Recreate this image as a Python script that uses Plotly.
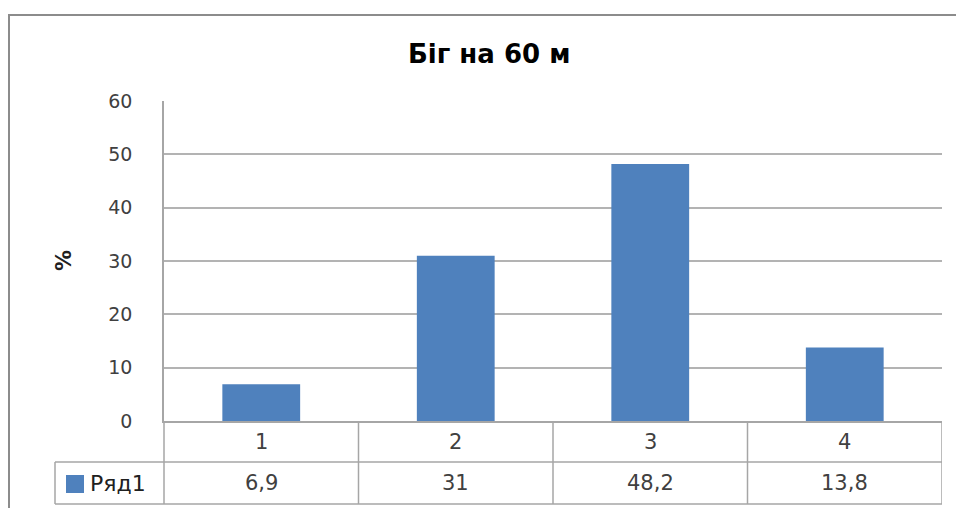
import plotly.graph_objects as go

# Data
categories = ["1", "2", "3", "4"]
values = [6.9, 31, 48.2, 13.8]
series_name = "Ряд1"
y_ticks = [0, 10, 20, 30, 40, 50, 60]
title_text = "Біг на 60 м"
y_title = "%"

# Values in the data table use a decimal comma
value_labels = [f"{v:g}".replace(".", ",") for v in values]

W, H = 956, 508
ML, MR, MT, MB = 164, 14, 101, 87
PW, PH = W - ML - MR, H - MT - MB

BAR_COLOR = "#4F81BD"
GRID = "#b3b3b3"
TABLE_LINE = "#a6a6a6"
TEXT = "#404040"
FONT = "DejaVu Sans"


def px(x):
    return (x - ML) / PW


def py(y):
    return (H - MB - y) / PH


fig = go.Figure(
    go.Bar(
        x=list(range(len(categories))),
        y=values,
        width=0.4,
        marker=dict(color=BAR_COLOR, line=dict(width=0)),
        name=series_name,
    )
)

shapes = []
# Chart frame
shapes.append(dict(type="rect", xref="paper", yref="paper",
                   x0=px(9), x1=px(975), y0=py(530), y1=py(15),
                   line=dict(color="#8c8c8c", width=2), layer="below"))
# Data table grid
row1_top, row2_top, row2_bot = 421, 462, 504
tbl_left, tbl_right = 55, 942
shapes.append(dict(type="line", xref="paper", yref="paper",
                   x0=px(ML), x1=px(ML), y0=py(row1_top), y1=py(row2_bot),
                   line=dict(color=TABLE_LINE, width=1.5)))
for yy, x0 in [(row2_top, tbl_left), (row2_bot, tbl_left)]:
    shapes.append(dict(type="line", xref="paper", yref="paper",
                       x0=px(x0), x1=px(tbl_right), y0=py(yy), y1=py(yy),
                       line=dict(color=TABLE_LINE, width=1.5)))
shapes.append(dict(type="line", xref="paper", yref="paper",
                   x0=px(tbl_left), x1=px(tbl_left), y0=py(row2_top), y1=py(row2_bot),
                   line=dict(color=TABLE_LINE, width=1.5)))
for i in range(len(categories)):
    b = i + 0.5
    shapes.append(dict(type="line", xref="x", yref="paper",
                       x0=b, x1=b, y0=py(row1_top), y1=py(row2_bot),
                       line=dict(color=TABLE_LINE, width=1.5)))
# Legend key in the table
shapes.append(dict(type="rect", xref="paper", yref="paper",
                   x0=px(66), x1=px(84), y0=py(493), y1=py(475),
                   fillcolor=BAR_COLOR, line=dict(width=0)))

annotations = []
annotations.append(dict(text=f"<b>{title_text}</b>", xref="paper", yref="paper",
                        x=px(489), y=py(54), xanchor="center", yanchor="middle",
                        showarrow=False,
                        font=dict(family=FONT, size=26, color="#000000")))
annotations.append(dict(text=f"<b>{y_title}</b>", xref="paper", yref="paper",
                        x=px(64), y=py(261), xanchor="center", yanchor="middle",
                        showarrow=False, textangle=-90,
                        font=dict(family=FONT, size=21, color="#202020")))
row1_mid = (row1_top + row2_top) / 2
row2_mid = (row2_top + row2_bot) / 2
for i, (c, v) in enumerate(zip(categories, value_labels)):
    annotations.append(dict(text=c, xref="x", yref="paper", x=i, y=py(row1_mid),
                            xanchor="center", yanchor="middle", showarrow=False,
                            font=dict(family=FONT, size=21, color=TEXT)))
    annotations.append(dict(text=v, xref="x", yref="paper", x=i, y=py(row2_mid),
                            xanchor="center", yanchor="middle", showarrow=False,
                            font=dict(family=FONT, size=21, color=TEXT)))
annotations.append(dict(text=series_name, xref="paper", yref="paper",
                        x=px(88), y=py(row2_mid), xanchor="left", yanchor="middle",
                        showarrow=False,
                        font=dict(family=FONT, size=22, color="#202020")))

fig.update_layout(
    width=W, height=H,
    margin=dict(l=ML, r=MR, t=MT, b=MB, pad=0),
    paper_bgcolor="white", plot_bgcolor="white",
    showlegend=False,
    shapes=shapes,
    annotations=annotations,
    bargap=0.6,
)
fig.update_xaxes(range=[-0.5, len(categories) - 0.5], showticklabels=False,
                 showgrid=False, zeroline=False, ticks="",
                 showline=True, linecolor=TABLE_LINE, linewidth=1.5)
fig.update_yaxes(range=[0, 60], tickvals=y_ticks, showgrid=True,
                 gridcolor=GRID, gridwidth=1.5, zeroline=False,
                 showline=True, linecolor=TABLE_LINE, linewidth=1.5,
                 ticks="", ticklabelstandoff=26,
                 tickfont=dict(family=FONT, size=19, color=TEXT))

fig.write_html("out.html")
